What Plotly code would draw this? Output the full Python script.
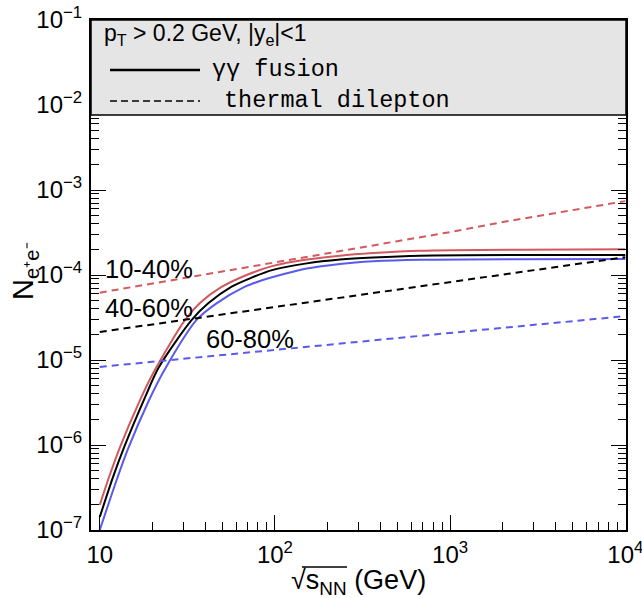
import plotly.graph_objects as go

# ---- gamma-gamma fusion (solid) ----
x_gg_1040 = [10, 11.25, 13.0, 16.9, 20.4, 30.7, 37.3, 49.6, 68.9, 97.4, 152, 235, 364, 672, 10000]
y_gg_1040 = [1.97e-7, 4.09e-7, 9.27e-7, 3.31e-6, 7.33e-6, 2.96e-5, 4.69e-5, 7.23e-5, 1.0e-4, 1.28e-4,
             1.52e-4, 1.69e-4, 1.81e-4, 1.93e-4, 2.01e-4]

x_gg_4060 = [10, 11.9, 13.8, 18.1, 21.7, 33.5, 41.6, 56.6, 72.0, 97.4, 152, 235, 364, 672, 10000]
y_gg_4060 = [1.42e-7, 4.19e-7, 9.5e-7, 3.61e-6, 8.15e-6, 2.96e-5, 4.64e-5, 7.28e-5, 9.14e-5, 1.15e-4,
             1.37e-4, 1.52e-4, 1.61e-4, 1.69e-4, 1.72e-4]

x_gg_6080 = [10, 12.6, 14.4, 19.1, 23.1, 35.7, 46.4, 67.5, 82.0, 97.4, 152, 235, 364, 672, 10000]
y_gg_6080 = [1.0e-7, 4.09e-7, 8.69e-7, 3.36e-6, 7.28e-6, 2.96e-5, 4.64e-5, 7.28e-5, 8.5e-5, 9.46e-5,
             1.19e-4, 1.35e-4, 1.45e-4, 1.51e-4, 1.54e-4]

# ---- thermal dileptons (dashed) ----
x_th = [10, 20, 50, 100, 200, 500, 1000, 2000, 5000, 10000]
y_th_1040 = [6.2e-5, 7.9e-5, 1.1e-4, 1.4e-4, 1.8e-4, 2.5e-4, 3.2e-4, 4.2e-4, 5.8e-4, 7.4e-4]
y_th_4060 = [2.14e-5, 2.62e-5, 3.43e-5, 4.2e-5, 5.14e-5, 6.73e-5, 8.24e-5, 1.01e-4, 1.32e-4, 1.62e-4]
y_th_6080 = [8.3e-6, 9.55e-6, 1.15e-5, 1.32e-5, 1.51e-5, 1.81e-5, 2.08e-5, 2.39e-5, 2.86e-5, 3.29e-5]

centralities = ["10-40%", "40-60%", "60-80%"]
colors = ["#d25a5e", "#000000", "#5a5aeb"]

# ---- ticks ----
x_tickvals = [10, 100, 1000, 10000]
x_ticktext = ["10", "10<sup>2</sup>", "10<sup>3</sup>", "10<sup>4</sup>"]
y_tickvals = [1e-7, 1e-6, 1e-5, 1e-4, 1e-3, 1e-2, 1e-1]
y_ticktext = ["10<sup>\u22127</sup>", "10<sup>\u22126</sup>", "10<sup>\u22125</sup>", "10<sup>\u22124</sup>",
              "10<sup>\u22123</sup>", "10<sup>\u22122</sup>", "10<sup>\u22121</sup>"]
x_minor = [k * 10 ** d for d in range(1, 4) for k in range(2, 10)]
y_minor = [k * 10.0 ** d for d in range(-7, -1) for k in range(2, 10)]

W, H = 642, 598
L, R, T, B = 91, 16, 20, 68
PW, PH = W - L - R, H - T - B


def px(x):
    return (x - L) / PW


def py(y):
    return (T + PH - y) / PH


fig = go.Figure()

gg = [(x_gg_1040, y_gg_1040), (x_gg_4060, y_gg_4060), (x_gg_6080, y_gg_6080)]
th = [y_th_1040, y_th_4060, y_th_6080]

for (xs, ys), c in zip(gg, colors):
    fig.add_trace(go.Scatter(x=xs, y=ys, mode="lines", showlegend=False,
                             line=dict(color=c, width=2, shape="spline", smoothing=0.8)))
for ys, c in zip(th, colors):
    fig.add_trace(go.Scatter(x=x_th, y=ys, mode="lines", showlegend=False,
                             line=dict(color=c, width=2, dash="7px,5px")))

font_main = "Liberation Sans, Arial, sans-serif"
font_mono = "Liberation Mono, Courier New, monospace"

axis_common = dict(type="log", showline=True, linecolor="black", linewidth=2, mirror="allticks",
                   ticks="inside", ticklen=15, tickwidth=1, tickcolor="black", showgrid=False,
                   zeroline=False, tickmode="array", ticklabeloverflow="allow",
                   tickfont=dict(family=font_main, size=24, color="black"))

fig.update_xaxes(**axis_common, range=[0.95, 4.004], tickvals=x_tickvals, ticktext=x_ticktext,
                 ticklabelstandoff=2,
                 minor=dict(tickvals=x_minor, ticks="inside", ticklen=8, tickcolor="black", tickwidth=1))
fig.update_yaxes(**axis_common, range=[-7, -1], tickvals=y_tickvals, ticktext=y_ticktext,
                 ticklabelstandoff=2,
                 minor=dict(tickvals=y_minor, ticks="inside", ticklen=8, tickcolor="black", tickwidth=1))

shapes = []
# legend box
shapes.append(dict(type="rect", xref="paper", yref="paper", x0=0, x1=1, y0=py(115), y1=1,
                   fillcolor="#e5e5e5", line=dict(color="black", width=1.5), layer="above"))
shapes.append(dict(type="line", xref="paper", yref="paper", x0=px(110), x1=px(200), y0=py(70), y1=py(70),
                   line=dict(color="black", width=2.5), layer="above"))
shapes.append(dict(type="line", xref="paper", yref="paper", x0=px(110), x1=px(200), y0=py(101), y1=py(101),
                   line=dict(color="black", width=1.5, dash="7px,4px"), layer="above"))
# overline of the square-root sign in the x title
shapes.append(dict(type="line", xref="paper", yref="paper", x0=px(302), x1=px(347), y0=py(567), y1=py(567),
                   line=dict(color="black", width=1.5), layer="above"))

annotations = []
annotations.append(dict(text="p<sub>T</sub> &gt; 0.2 GeV, |y<sub>e</sub>|&lt;1", xref="paper", yref="paper",
                        x=px(102), y=py(34), xanchor="left", yanchor="middle", showarrow=False,
                        font=dict(family=font_main, size=23, color="black")))
annotations.append(dict(text="\u03b3\u03b3 fusion", xref="paper", yref="paper",
                        x=px(210), y=py(69), xanchor="left", yanchor="middle", showarrow=False,
                        font=dict(family=font_mono, size=23.5, color="black")))
annotations.append(dict(text="thermal dilepton", xref="paper", yref="paper",
                        x=px(222), y=py(100), xanchor="left", yanchor="middle", showarrow=False,
                        font=dict(family=font_mono, size=23.5, color="black")))

label_pos = [(103, 269), (103, 308), (204, 339)]
for lab, (lx, ly) in zip(centralities, label_pos):
    annotations.append(dict(text=lab, xref="paper", yref="paper", x=px(lx), y=py(ly),
                            xanchor="left", yanchor="middle", showarrow=False,
                            font=dict(family=font_main, size=25.5, color="black")))

annotations.append(dict(text="\u221as<sub>NN</sub> (GeV)",
                        xref="paper", yref="paper", x=px(358), y=py(582), xanchor="center",
                        yanchor="middle", showarrow=False,
                        font=dict(family=font_main, size=27, color="black")))
annotations.append(dict(text="N<sub>e\u207ae\u207b</sub>", xref="paper", yref="paper",
                        x=px(25), y=py(271), xanchor="center", yanchor="middle", textangle=-90,
                        showarrow=False, font=dict(family=font_main, size=29, color="black")))

fig.update_layout(width=W, height=H, margin=dict(l=L, r=R, t=T, b=B, autoexpand=False),
                  plot_bgcolor="white", paper_bgcolor="white", shapes=shapes, annotations=annotations)

fig.write_html("out.html")
